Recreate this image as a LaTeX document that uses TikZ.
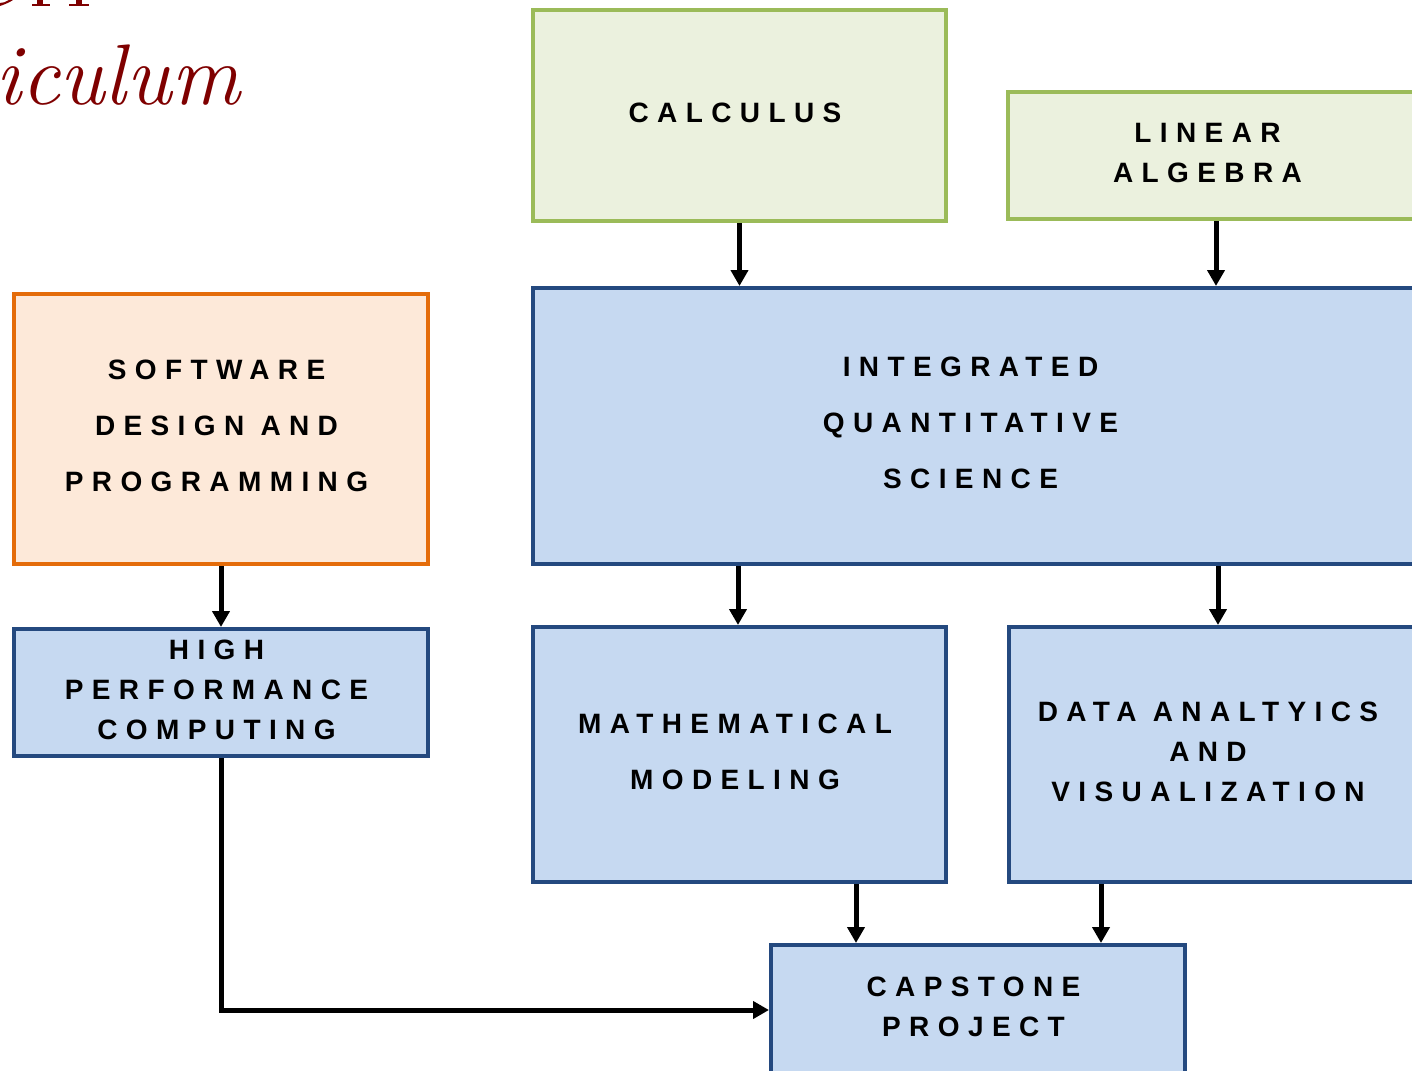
\documentclass[tikz,border=0pt]{standalone}
\usepackage{fontspec}
\usetikzlibrary{arrows.meta}
\newfontfamily\boxfont{Liberation Sans}[LetterSpace=30,BoldFont={Liberation Sans Bold}]
\definecolor{grnS}{HTML}{9BBB59}
\definecolor{grnF}{HTML}{EBF1DE}
\definecolor{bluS}{HTML}{24497F}
\definecolor{bluF}{HTML}{C6D9F1}
\definecolor{orgS}{HTML}{E46C0A}
\definecolor{orgF}{HTML}{FDE9D9}
\definecolor{titleC}{HTML}{7F0000}
\newcommand\ls[1]{#1\kern9pt}
\tikzset{
  boxbase/.style={draw, line width=4pt, align=center, inner sep=0pt, text depth=6pt, font=\boxfont\bfseries\fontsize{28}{40}\selectfont},
  wide/.style={font=\boxfont\bfseries\fontsize{28}{56}\selectfont},
  greenbox/.style={boxbase, draw=grnS, fill=grnF},
  bluebox/.style={boxbase, draw=bluS, fill=bluF},
  orangebox/.style={boxbase, draw=orgS, fill=orgF},
  arr/.style={line width=5pt, -{Triangle[length=16pt,width=17pt]}},
}
\begin{document}
\begin{tikzpicture}[x=1pt,y=-1pt]
\useasboundingbox (0,0) rectangle (1412,1070);
\clip (0,0) rectangle (1412,1070);
\fill[white] (0,0) rectangle (1412,1070);
% cut-off descenders of the title line above
\fill[titleC] (0,6) .. controls (6,4) and (10,2) .. (13,0) -- (9,0) .. controls (6,2) and (3,3) .. (0,3) -- cycle;
\fill[titleC] (37,0) rectangle (43,4);
\fill[titleC] (32,4) rectangle (50,6);
\fill[titleC] (76,0) rectangle (82,4);
\fill[titleC] (69,4) rectangle (89,6);
\node[anchor=base west, inner sep=0pt, text=titleC, font=\fontsize{86}{90}\selectfont\itshape] (title) at (-5,105) {iculum};
\node[greenbox, minimum width=413pt, minimum height=211pt] (calc) at (739.5,115.5) {\ls{CALCULUS}};
\node[greenbox, minimum width=408pt, minimum height=127pt] (lin) at (1212,155.5) {\ls{LINEAR}\\\ls{ALGEBRA}};
\node[bluebox, wide, minimum width=884pt, minimum height=276pt] (iqs) at (975,426) {\ls{INTEGRATED}\\\ls{QUANTITATIVE}\\\ls{SCIENCE}};
\node[orangebox, wide, minimum width=414pt, minimum height=270pt] (sw) at (221,429) {\ls{SOFTWARE}\\\ls{DESIGN AND}\\\ls{PROGRAMMING}};
\node[bluebox, minimum width=414pt, minimum height=127pt] (hpc) at (221,692.5) {\ls{HIGH}\\\ls{PERFORMANCE}\\\ls{COMPUTING}};
\node[bluebox, wide, minimum width=413pt, minimum height=255pt] (mm) at (739.5,754.5) {\ls{MATHEMATICAL}\\\ls{MODELING}};
\node[bluebox, minimum width=407pt, minimum height=255pt] (dav) at (1212.5,754.5) {\ls{DATA ANALTYICS}\\\ls{AND}\\\ls{VISUALIZATION}};
\node[bluebox, minimum width=414pt, minimum height=130pt] (cap) at (978,1010) {\ls{CAPSTONE}\\\ls{PROJECT}};
\draw[arr] (calc.south) -- (iqs.north -| calc.south);
\draw[arr] (lin.south -| 1216,0) -- (iqs.north -| 1216,0);
\draw[arr] (sw.south) -- (hpc.north);
\draw[arr] (iqs.south -| 738,0) -- (mm.north -| 738,0);
\draw[arr] (iqs.south -| 1218,0) -- (dav.north -| 1218,0);
\draw[arr] (mm.south -| 856,0) -- (cap.north -| 856,0);
\draw[arr] (dav.south -| 1101,0) -- (cap.north -| 1101,0);
\draw[arr] (hpc.south) -- (hpc.south |- cap.west) -- (cap.west);
\end{tikzpicture}
\end{document}
